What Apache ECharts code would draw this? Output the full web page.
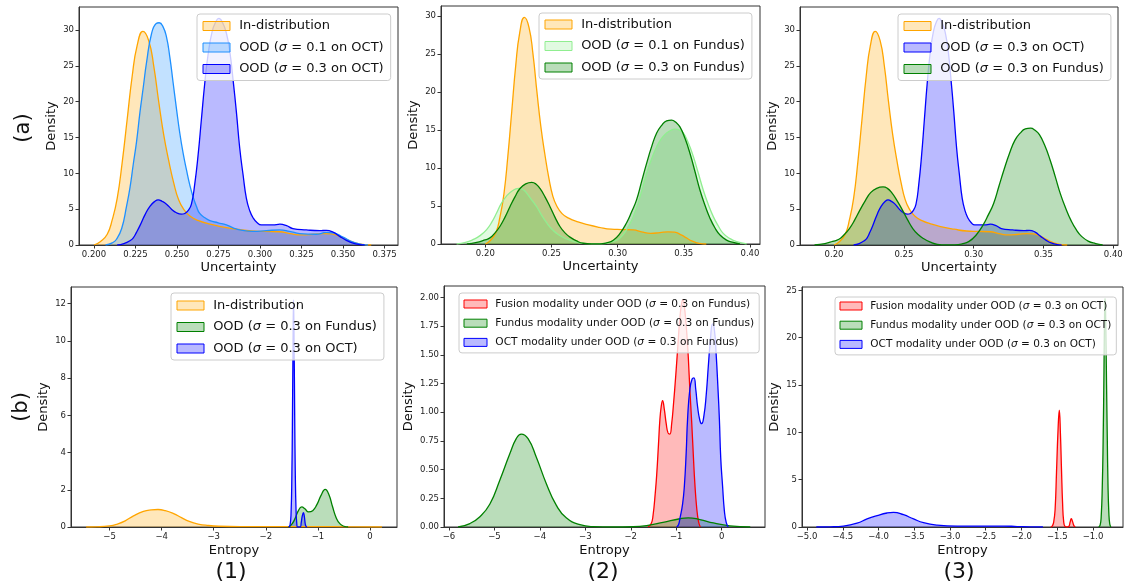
<!DOCTYPE html>
<html>
<head>
<meta charset="utf-8">
<script src="https://cdn.jsdelivr.net/npm/echarts@6/dist/echarts.min.js"></script>
<style>
html,body{margin:0;padding:0;background:#fff;}
#c{width:1126px;height:585px;}
</style>
</head>
<body>
<div id="c"></div>
<script>
// ---------- Row (a): uncertainty KDE curves [x, density] ----------
const uncIn = [[0.200,0],[0.204,0.5],[0.208,1.5],[0.211,3.5],[0.214,6.5],[0.217,11.5],[0.220,17.5],[0.223,23.5],[0.226,27.8],[0.2295,29.8],[0.233,28.5],[0.236,25],[0.239,20],[0.242,15.4],[0.245,11.8],[0.248,8.7],[0.251,6.3],[0.254,5.0],[0.258,4.0],[0.263,3.4],[0.270,2.9],[0.278,2.5],[0.286,2.2],[0.295,1.95],[0.303,1.9],[0.312,1.85],[0.318,1.6],[0.325,1.4],[0.332,1.5],[0.338,1.6],[0.343,1.55],[0.348,1.2],[0.352,0.8],[0.356,0.4],[0.360,0.15],[0.364,0.03],[0.367,0]];
const uncOct01 = [[0.207,0],[0.211,0.3],[0.2136,0.8],[0.2167,2.3],[0.2197,5.5],[0.2217,8],[0.2237,11.3],[0.2257,14.5],[0.2277,18.5],[0.2297,22],[0.2317,25.5],[0.2347,29.5],[0.2375,30.9],[0.2393,31.0],[0.2415,30.5],[0.2437,29],[0.2457,26.2],[0.2477,22.6],[0.2497,19],[0.2517,15.6],[0.2537,12.8],[0.2557,10.5],[0.2577,8.4],[0.2597,6.7],[0.2617,5.4],[0.2637,4.4],[0.2668,3.8],[0.2698,3.4],[0.2748,3.1],[0.2798,2.8],[0.2838,2.4],[0.2878,2.1],[0.2958,1.9],[0.3038,2.0],[0.3118,2.1],[0.3178,1.9],[0.3239,1.6],[0.3339,1.5],[0.3399,1.75],[0.3440,1.7],[0.3500,1.1],[0.3540,0.6],[0.3580,0.25],[0.3620,0.05],[0.3650,0]];
const uncOct03 = [[0.214,0],[0.218,0.2],[0.2217,0.6],[0.2237,1.0],[0.2257,1.8],[0.2277,2.7],[0.2307,4.2],[0.2337,5.4],[0.2367,6.1],[0.2387,6.3],[0.2410,6.1],[0.2437,5.7],[0.2467,5.0],[0.2497,4.5],[0.2527,4.3],[0.2547,4.4],[0.2567,4.8],[0.2587,5.7],[0.2607,8.5],[0.2627,12.5],[0.2647,17.5],[0.2667,22.5],[0.2687,26.5],[0.2712,29.8],[0.2735,31.2],[0.2752,31.6],[0.2775,31],[0.2798,29.5],[0.2818,27],[0.2838,23],[0.2858,18.5],[0.2878,13.5],[0.2898,9.8],[0.2918,6.5],[0.2938,4.8],[0.2958,3.8],[0.2983,3.1],[0.3008,2.8],[0.3078,2.8],[0.3120,2.9],[0.3160,2.7],[0.3198,2.3],[0.3279,2.1],[0.3360,2.0],[0.3399,2.05],[0.3440,1.8],[0.3480,1.2],[0.3520,0.65],[0.3560,0.25],[0.3600,0.05],[0.3630,0]];
const uncFun01 = [[0.1783,0],[0.185,0.2],[0.191,0.6],[0.196,1.1],[0.201,1.9],[0.205,2.9],[0.2086,4.1],[0.212,5.3],[0.216,6.3],[0.2205,7.0],[0.2249,7.3],[0.228,7.2],[0.2312,6.7],[0.235,5.8],[0.2388,4.9],[0.2425,3.8],[0.2463,2.8],[0.250,2.0],[0.2539,1.4],[0.259,0.85],[0.264,0.5],[0.270,0.2],[0.2766,0.05],[0.284,0.02],[0.2917,0.1],[0.297,0.35],[0.3018,0.8],[0.3068,1.9],[0.3118,3.6],[0.3169,6.2],[0.3219,9.3],[0.3257,11.2],[0.3295,12.8],[0.3332,13.9],[0.337,14.6],[0.3408,15.0],[0.3433,15.1],[0.3465,15.0],[0.3496,14.6],[0.3534,13.3],[0.3572,11.5],[0.361,9.3],[0.3647,7.1],[0.3685,5.2],[0.3723,3.6],[0.376,2.4],[0.3798,1.4],[0.385,0.7],[0.39,0.3],[0.3975,0]];
const uncFun03 = [[0.186,0],[0.1935,0.2],[0.199,0.5],[0.2035,0.8],[0.207,1.4],[0.211,2.3],[0.2148,3.5],[0.2186,4.9],[0.2224,6.2],[0.2262,7.3],[0.2305,7.9],[0.2351,8.1],[0.2382,7.9],[0.2413,7.3],[0.2451,6.2],[0.2489,4.9],[0.2527,3.5],[0.2564,2.3],[0.260,1.5],[0.264,0.9],[0.269,0.4],[0.274,0.1],[0.2803,0.02],[0.2866,0.02],[0.2917,0.15],[0.2967,0.5],[0.3018,1.4],[0.3068,2.8],[0.3105,4.2],[0.3143,5.8],[0.3181,8.2],[0.3219,10.6],[0.3257,12.8],[0.3295,14.6],[0.3333,15.6],[0.3370,16.2],[0.3408,16.3],[0.3440,16.0],[0.3471,15.4],[0.3509,13.9],[0.3547,11.9],[0.3585,9.5],[0.3622,7.1],[0.366,5.1],[0.3698,3.4],[0.3736,2.1],[0.3773,1.2],[0.382,0.55],[0.3874,0.2],[0.3924,0]];

// ---------- Row (b): entropy KDE curves [x, density] ----------
// (1)
const entIn = [[-5.45,0],[-5.24,0.01],[-5.0,0.06],[-4.85,0.16],[-4.70,0.33],[-4.54,0.6],[-4.35,0.84],[-4.2,0.92],[-4.07,0.94],[-3.93,0.88],[-3.77,0.72],[-3.62,0.5],[-3.47,0.3],[-3.3,0.16],[-3.1,0.08],[-2.9,0.04],[-2.5,0.02],[-2.0,0.02],[-1.6,0.02],[-1.2,0.02],[-0.7,0.015],[-0.3,0.005],[0.23,0]];
const entFun03 = [[-1.564,0],[-1.50,0.15],[-1.44,0.45],[-1.38,0.85],[-1.31,1.08],[-1.25,0.98],[-1.18,0.81],[-1.10,0.88],[-1.02,1.2],[-0.94,1.7],[-0.86,2.02],[-0.79,1.75],[-0.72,1.1],[-0.65,0.5],[-0.58,0.18],[-0.50,0.04],[-0.42,0]];
const entOct03 = [[-1.56,0],[-1.535,0.1],[-1.515,0.8],[-1.50,2.8],[-1.49,5.5],[-1.48,9],[-1.468,12.2],[-1.456,9.5],[-1.446,6],[-1.435,3],[-1.42,0.9],[-1.405,0.15],[-1.39,0],[-1.34,0],[-1.32,0.25],[-1.30,0.6],[-1.278,0.77],[-1.26,0.55],[-1.245,0.2],[-1.23,0.04],[-1.21,0]];
// (2)
const entFusionF = [[-1.62,0],[-1.55,0.03],[-1.51,0.1],[-1.46,0.3],[-1.43,0.45],[-1.39,0.72],[-1.36,0.93],[-1.33,1.05],[-1.30,1.10],[-1.26,1.02],[-1.22,0.9],[-1.18,0.82],[-1.14,0.81],[-1.10,0.9],[-1.06,1.07],[-1.01,1.32],[-0.96,1.6],[-0.92,1.82],[-0.88,1.95],[-0.85,1.98],[-0.82,1.92],[-0.79,1.8],[-0.76,1.65],[-0.73,1.45],[-0.70,1.2],[-0.66,0.92],[-0.62,0.6],[-0.59,0.38],[-0.55,0.17],[-0.51,0.05],[-0.47,0]];
const entFundusF = [[-5.80,0],[-5.54,0.03],[-5.32,0.09],[-5.10,0.2],[-4.88,0.41],[-4.66,0.64],[-4.52,0.77],[-4.41,0.81],[-4.26,0.77],[-4.08,0.61],[-3.86,0.38],[-3.64,0.19],[-3.42,0.08],[-3.12,0.02],[-2.83,0.003],[-2.4,0],[-1.95,0.002],[-1.65,0.012],[-1.29,0.04],[-0.92,0.072],[-0.735,0.08],[-0.48,0.065],[-0.18,0.035],[0.18,0.01],[0.63,0]];
const entOctF = [[-0.99,0],[-0.95,0.02],[-0.92,0.07],[-0.86,0.2],[-0.82,0.36],[-0.78,0.65],[-0.75,0.94],[-0.70,1.2],[-0.65,1.29],[-0.61,1.30],[-0.57,1.2],[-0.53,1.05],[-0.48,0.93],[-0.44,0.90],[-0.39,0.97],[-0.34,1.15],[-0.29,1.42],[-0.25,1.62],[-0.20,1.77],[-0.16,1.72],[-0.12,1.5],[-0.08,1.2],[-0.05,0.94],[-0.02,0.6],[0.02,0.36],[0.06,0.14],[0.10,0.04],[0.145,0]];
// (3)
const entFusionO = [[-1.59,0],[-1.57,0.1],[-1.55,0.5],[-1.53,1.8],[-1.51,5.8],[-1.49,10],[-1.471,12.36],[-1.455,9.8],[-1.44,6],[-1.425,2.5],[-1.41,0.6],[-1.39,0.05],[-1.36,0],[-1.335,0.1],[-1.32,0.5],[-1.303,0.89],[-1.285,0.55],[-1.265,0.12],[-1.247,0]];
const entFundusO = [[-0.92,0],[-0.90,0.2],[-0.885,1.1],[-0.87,4.2],[-0.858,9],[-0.846,16.5],[-0.836,23.5],[-0.83,24.15],[-0.822,22],[-0.81,15],[-0.80,9.5],[-0.79,4.5],[-0.778,1.5],[-0.765,0.3],[-0.75,0]];
const entOctO = [[-4.87,0],[-4.67,0.02],[-4.49,0.1],[-4.30,0.4],[-4.16,0.85],[-4.02,1.2],[-3.88,1.48],[-3.79,1.55],[-3.65,1.3],[-3.51,0.85],[-3.37,0.45],[-3.18,0.2],[-2.90,0.1],[-2.53,0.1],[-2.25,0.1],[-2.06,0.05],[-1.88,0.01],[-1.70,0]];

// ---------- tick values ----------
const ticksA1x = [0.200,0.225,0.250,0.275,0.300,0.325,0.350,0.375];
const ticksA2x = [0.20,0.25,0.30,0.35,0.40];
const ticksAy = [0,5,10,15,20,25,30];
const ticksB1x = [-5,-4,-3,-2,-1,0];
const ticksB1y = [0,2,4,6,8,10,12];
const ticksB2x = [-6,-5,-4,-3,-2,-1,0];
const ticksB2y = [0,0.25,0.5,0.75,1.0,1.25,1.5,1.75,2.0];
const ticksB3x = [-5.0,-4.5,-4.0,-3.5,-3.0,-2.5,-2.0,-1.5,-1.0];
const ticksB3y = [0,5,10,15,20,25];

// ---------- names ----------
const nIn = 'In-distribution';
const nOct01 = 'OOD (σ = 0.1 on OCT)';
const nOct03 = 'OOD (σ = 0.3 on OCT)';
const nFun01 = 'OOD (σ = 0.1 on Fundus)';
const nFun03 = 'OOD (σ = 0.3 on Fundus)';
const nFusF = 'Fusion modality under OOD (σ = 0.3 on Fundus)';
const nFunF = 'Fundus modality under OOD (σ = 0.3 on Fundus)';
const nOctF = 'OCT modality under OOD (σ = 0.3 on Fundus)';
const nFusO = 'Fusion modality under OOD (σ = 0.3 on OCT)';
const nFunO = 'Fundus modality under OOD (σ = 0.3 on OCT)';
const nOctO = 'OCT modality under OOD (σ = 0.3 on OCT)';

const C = {orange:[255,165,0], dodger:[30,144,255], blue:[0,0,255], lgreen:[144,238,144], green:[0,128,0], red:[255,0,0]};
const ALPHA = 0.27;
const FONT = 'DejaVu Sans';
function rgb(c){return 'rgb('+c.join(',')+')';}
function rgba(c,a){return 'rgba('+c.join(',')+','+a+')';}

const grids = [
  {left:79, top:7, width:319, height:238},
  {left:441, top:6, width:319, height:238},
  {left:800, top:7, width:318, height:238},
  {left:71, top:287, width:326, height:240},
  {left:444, top:286, width:321, height:241},
  {left:802, top:287, width:321, height:240}
];

function fmtMinus(s){return s.replace('-', '\u2212');}
const xCfg = [
  {min:0.191, max:0.3831, ticks:ticksA1x, dec:3, name:'Uncertainty', gap:16},
  {min:0.1665, max:0.4076, ticks:ticksA2x, dec:2, name:'Uncertainty', gap:16},
  {min:0.1756, max:0.4034, ticks:ticksA2x, dec:2, name:'Uncertainty', gap:16},
  {min:-5.74, max:0.518, ticks:ticksB1x, dec:0, name:'Entropy', gap:17},
  {min:-6.11, max:0.954, ticks:ticksB2x, dec:0, name:'Entropy', gap:17},
  {min:-5.07, max:-0.58, ticks:ticksB3x, dec:1, name:'Entropy', gap:17}
];
const yCfg = [
  {max:33.2, ticks:ticksAy, dec:0, gap:21},
  {max:31.3, ticks:ticksAy, dec:0, gap:21},
  {max:33.2, ticks:ticksAy, dec:0, gap:21},
  {max:12.9, ticks:ticksB1y, dec:0, gap:21},
  {max:2.10, ticks:ticksB2y, dec:2, gap:29},
  {max:25.36, ticks:ticksB3y, dec:0, gap:21}
];
const axisColor = '#333';
const tickFont = 8.5;

const xAxes = xCfg.map((c,i)=>({
  gridIndex:i, type:'value', min:c.min, max:c.max,
  axisLine:{show:true, onZero:false, lineStyle:{color:axisColor, width:1}},
  axisTick:{show:true, length:3.5, customValues:c.ticks, lineStyle:{color:axisColor, width:1}},
  axisLabel:{customValues:c.ticks, fontSize:tickFont, fontFamily:FONT, color:'#222', margin:5,
    formatter:v=>fmtMinus(Number(v).toFixed(c.dec))},
  splitLine:{show:false},
  name:c.name, nameLocation:'middle', nameGap:c.gap,
  nameTextStyle:{fontSize:13, fontFamily:FONT, color:'#111'}
}));
const yAxes = yCfg.map((c,i)=>({
  gridIndex:i, type:'value', min:0, max:c.max,
  axisLine:{show:true, onZero:false, lineStyle:{color:axisColor, width:1}},
  axisTick:{show:true, length:3.5, customValues:c.ticks, lineStyle:{color:axisColor, width:1}},
  axisLabel:{customValues:c.ticks, fontSize:tickFont, fontFamily:FONT, color:'#222', margin:5,
    formatter:v=>fmtMinus(Number(v).toFixed(c.dec))},
  splitLine:{show:false},
  name:'Density', nameLocation:'middle', nameGap:c.gap, nameRotate:90,
  nameTextStyle:{fontSize:13, fontFamily:FONT, color:'#111'}
}));

function kde(name, data, col, gi){
  return {
    type:'line', name:name, xAxisIndex:gi, yAxisIndex:gi, data:data,
    showSymbol:false, symbol:'none', smooth:0.5, silent:true, clip:true,
    color:rgb(col),
    lineStyle:{width:1.3, color:rgb(col)},
    areaStyle:{color:rgb(col), opacity:ALPHA}
  };
}
const series = [
  kde(nIn, uncIn, C.orange, 0), kde(nOct01, uncOct01, C.dodger, 0), kde(nOct03, uncOct03, C.blue, 0),
  kde(nIn, uncIn, C.orange, 1), kde(nFun01, uncFun01, C.lgreen, 1), kde(nFun03, uncFun03, C.green, 1),
  kde(nIn, uncIn, C.orange, 2), kde(nOct03, uncOct03, C.blue, 2), kde(nFun03, uncFun03, C.green, 2),
  kde(nIn, entIn, C.orange, 3), kde(nFun03, entFun03, C.green, 3), kde(nOct03, entOct03, C.blue, 3),
  kde(nFusF, entFusionF, C.red, 4), kde(nFunF, entFundusF, C.green, 4), kde(nOctF, entOctF, C.blue, 4),
  kde(nFusO, entFusionO, C.red, 5), kde(nFunO, entFundusO, C.green, 5), kde(nOctO, entOctO, C.blue, 5)
];

function item(name, col){
  return {name:name, itemStyle:{color:rgba(col,ALPHA), borderColor:rgb(col), borderWidth:1}};
}
function legend(pos, fs, iw, ih, gap, pad, items){
  return Object.assign({
    orient:'vertical', icon:'rect', itemWidth:iw, itemHeight:ih, itemGap:gap,
    padding:pad, backgroundColor:'rgba(255,255,255,0.8)', borderColor:'#cccccc', borderWidth:1, borderRadius:3,
    selectedMode:false,
    textStyle:{fontSize:fs, fontFamily:FONT, color:'#111', lineHeight:fs,
      rich:{i:{fontStyle:'italic', fontSize:fs, fontFamily:FONT, color:'#111', lineHeight:fs}}},
    formatter:n=>' '+n.replace('σ','{i|σ}'),
    data:items
  }, pos);
}
const legends = [
  legend({left:197, top:14}, 13, 27, 9, 8.5, [5.5,7,5,5.5], [item(nIn,C.orange), item(nOct01,C.dodger), item(nOct03,C.blue)]),
  legend({left:539, top:13}, 13, 27, 9, 8.5, [5,7,5,5.5], [item(nIn,C.orange), item(nFun01,C.lgreen), item(nFun03,C.green)]),
  legend({left:898, top:14}, 13, 27, 9, 8.5, [5.5,7,5,5.5], [item(nIn,C.orange), item(nOct03,C.blue), item(nFun03,C.green)]),
  legend({left:171, top:293}, 13, 27, 9, 8.5, [6,7,5,5.5], [item(nIn,C.orange), item(nFun03,C.green), item(nOct03,C.blue)]),
  legend({left:459, top:293}, 10.6, 23, 8, 8.2, [5.5,5,5,4.5], [item(nFusF,C.red), item(nFunF,C.green), item(nOctF,C.blue)]),
  legend({left:835, top:297}, 10.5, 22, 8, 8.2, [3.5,5,5,4.5], [item(nFusO,C.red), item(nFunO,C.green), item(nOctO,C.blue)])
];

const chart = echarts.init(document.getElementById('c'), null, {renderer:'canvas'});
chart.setOption({
  animation:false,
  backgroundColor:'#fff',
  grid:grids.map(g=>Object.assign({show:true, borderColor:axisColor, borderWidth:1, backgroundColor:'transparent', containLabel:false}, g)),
  xAxis:xAxes, yAxis:yAxes, series:series, legend:legends,
  graphic:[
    {type:'text', x:24, y:128, rotation:Math.PI/2, style:{text:'(a)', fontSize:21, fontFamily:FONT, fill:'#111', align:'center', verticalAlign:'middle'}},
    {type:'text', x:22, y:407, rotation:Math.PI/2, style:{text:'(b)', fontSize:21, fontFamily:FONT, fill:'#111', align:'center', verticalAlign:'middle'}},
    {type:'text', x:231, y:572, style:{text:'(1)', fontSize:22, fontFamily:FONT, fill:'#111', align:'center', verticalAlign:'middle'}},
    {type:'text', x:603, y:572, style:{text:'(2)', fontSize:22, fontFamily:FONT, fill:'#111', align:'center', verticalAlign:'middle'}},
    {type:'text', x:959, y:572, style:{text:'(3)', fontSize:22, fontFamily:FONT, fill:'#111', align:'center', verticalAlign:'middle'}}
  ]
});
</script>
</body>
</html>
